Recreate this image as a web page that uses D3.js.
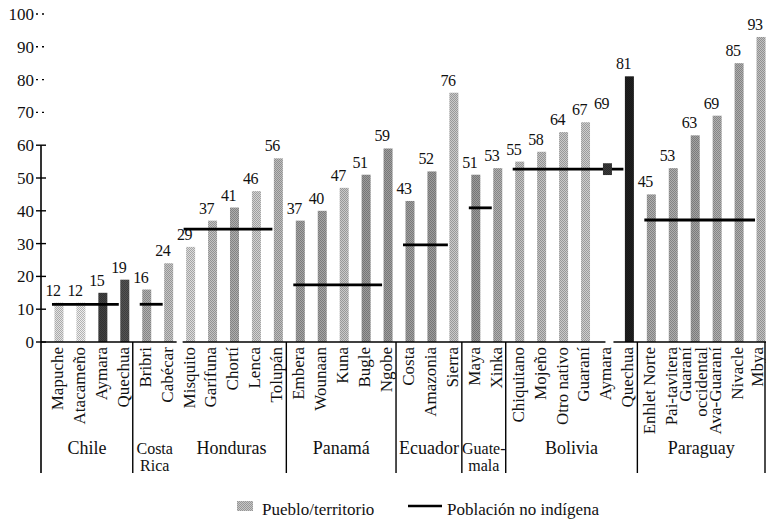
<!DOCTYPE html>
<html>
<head>
<meta charset="utf-8">
<script src="https://cdn.jsdelivr.net/npm/d3@7"></script>
<style>
  html, body { margin: 0; padding: 0; background: #fff; }
  svg { display: block; }
</style>
</head>
<body>
<div id="chart"></div>
<script>
// Pueblos (one bar each), in drawing order
const pueblos = [
  'Mapuche', 'Atacameño', 'Aymara', 'Quechua',
  'Bribri', 'Cabécar',
  'Misquito', 'Garífuna', 'Chortí', 'Lenca', 'Tolupán',
  'Embera', 'Wounaan', 'Kuna', 'Bugle', 'Ngobe',
  'Costa', 'Amazonia', 'Sierra',
  'Maya', 'Xinka',
  'Chiquitano', 'Mojeño', 'Otro nativo', 'Guaraní', 'Aymara', 'Quechua',
  'Enhlet Norte', 'Pai-tavitera', 'Guaraní\noccidental', 'Ava-Guaraní', 'Nivacle', 'Mbya'
];

// Country of each pueblo
const paisDePueblo = [
  'Chile', 'Chile', 'Chile', 'Chile',
  'Costa Rica', 'Costa Rica',
  'Honduras', 'Honduras', 'Honduras', 'Honduras', 'Honduras',
  'Panamá', 'Panamá', 'Panamá', 'Panamá', 'Panamá',
  'Ecuador', 'Ecuador', 'Ecuador',
  'Guatemala', 'Guatemala',
  'Bolivia', 'Bolivia', 'Bolivia', 'Bolivia', 'Bolivia', 'Bolivia',
  'Paraguay', 'Paraguay', 'Paraguay', 'Paraguay', 'Paraguay', 'Paraguay'
];

// Pueblo/territorio values (%)
const valores = [
  12, 12, 15, 19,
  16, 24,
  29, 37, 41, 46, 56,
  37, 40, 47, 51, 59,
  43, 52, 76,
  51, 53,
  55, 58, 64, 67, 69, 81,
  45, 53, 63, 69, 85, 93
];

// Countries and their non-indigenous population value (%)
const paises = ['Chile', 'Costa Rica', 'Honduras', 'Panamá', 'Ecuador', 'Guatemala', 'Bolivia', 'Paraguay'];
const etiquetaPais = ['Chile', 'Costa\nRica', 'Honduras', 'Panamá', 'Ecuador', 'Guate-\nmala', 'Bolivia', 'Paraguay'];
const noIndigena = [11.5, 11.5, 34.4, 17.4, 29.6, 40.9, 52.7, 37.2];

// Y axis ticks
const ticksY = [0, 10, 20, 30, 40, 50, 60, 70, 80, 90, 100];

// Grey tone of each bar's halftone (style only)
const tonoBarra = [
  '#c8c8c8', '#d2d2d2', '#3a3a3a', '#4a4a4a',
  '#9c9c9c', '#b0b0b0',
  '#c2c2c2', '#acacac', '#9a9a9a', '#bababa', '#a8a8a8',
  '#929292', '#929292', '#b2b2b2', '#8a8a8a', '#8c8c8c',
  '#8e8e8e', '#8a8a8a', '#b2b2b2',
  '#8a8a8a', '#9c9c9c',
  '#acacac', '#acacac', '#b2b2b2', '#b6b6b6', '#ffffff', '#1c1c1c',
  '#9a9a9a', '#9a9a9a', '#909090', '#9c9c9c', '#9a9a9a', '#aaaaaa'
];

const FONT = "'Liberation Serif', 'Times New Roman', 'DejaVu Serif', serif";
const W = 766, H = 524;
const baseY = 342, topY = 14, bottomSep = 473;
const axisX = 41, rightX = 765;

const svg = d3.select('#chart').append('svg')
  .attr('width', W).attr('height', H)
  .attr('font-family', FONT);

const defs = svg.append('defs');

function halftone(id, color) {
  const c = d3.color(color);
  const p = defs.append('pattern')
    .attr('id', id)
    .attr('patternUnits', 'userSpaceOnUse')
    .attr('width', 2).attr('height', 2);
  p.append('rect').attr('width', 2).attr('height', 2).attr('fill', c.brighter(0.35).formatHex());
  p.append('rect').attr('width', 1).attr('height', 1).attr('fill', c.darker(0.45).formatHex());
  p.append('rect').attr('x', 1).attr('y', 1).attr('width', 1).attr('height', 1).attr('fill', c.darker(0.45).formatHex());
}

const data = pueblos.map((p, i) => ({
  i, pueblo: p, pais: paisDePueblo[i], valor: valores[i], tono: tonoBarra[i]
}));

data.forEach(d => halftone('ht' + d.i, d.tono));
halftone('htLegend', '#b0b0b0');
halftone('htMark', '#333333');

const x = d3.scaleBand()
  .domain(data.map(d => d.i))
  .range([48, 772])
  .paddingInner(0.59)
  .paddingOuter(0.295);

const y = d3.scaleLinear().domain([0, 100]).range([baseY, topY]);

const cx = i => x(i) + x.bandwidth() / 2;

// Bars
svg.append('g').selectAll('rect')
  .data(data)
  .join('rect')
  .attr('x', d => x(d.i))
  .attr('y', d => y(d.valor))
  .attr('width', x.bandwidth())
  .attr('height', d => y(0) - y(d.valor))
  .attr('fill', d => d.tono === '#ffffff' ? '#ffffff' : `url(#ht${d.i})`);

// Value labels
svg.append('g').selectAll('text')
  .data(data)
  .join('text')
  .attr('x', d => cx(d.i) - 6)
  .attr('y', d => y(d.valor) - 7)
  .attr('text-anchor', 'middle')
  .attr('font-size', 16)
  .attr('letter-spacing', -0.5)
  .attr('fill', '#111')
  .text(d => d.valor);

// Groups: first/last index per country
const grupos = paises.map((p, k) => {
  const idx = data.filter(d => d.pais === p).map(d => d.i);
  return { pais: p, etiqueta: etiquetaPais[k], valor: noIndigena[k], first: d3.min(idx), last: d3.max(idx) };
});

// Non-indigenous population lines
svg.append('g').selectAll('line')
  .data(grupos)
  .join('line')
  .attr('x1', g => cx(g.first) - 7)
  .attr('x2', g => cx(g.last) - 6)
  .attr('y1', g => y(g.valor))
  .attr('y2', g => y(g.valor))
  .attr('stroke', '#000')
  .attr('stroke-width', 2.8);

// Dark mark on the hidden Bolivian Aymara bar
const boliviaG = grupos.find(g => g.pais === 'Bolivia');
data.filter(d => d.tono === '#ffffff').forEach(d => {
  svg.append('rect')
    .attr('x', x(d.i))
    .attr('y', y(boliviaG.valor + 1.8))
    .attr('width', x.bandwidth())
    .attr('height', y(boliviaG.valor - 1.8) - y(boliviaG.valor + 1.8))
    .attr('fill', 'url(#htMark)');
});

// Y axis
const axis = svg.append('g');
axis.append('line')
  .attr('x1', axisX).attr('x2', axisX)
  .attr('y1', y(60)).attr('y2', bottomSep)
  .attr('stroke', '#000').attr('stroke-width', 1.6);

axis.selectAll('.tick')
  .data(ticksY)
  .join('line')
  .attr('x1', 36).attr('x2', t => t > 60 ? 48 : 46)
  .attr('y1', t => y(t)).attr('y2', t => y(t))
  .attr('stroke', '#000')
  .attr('stroke-width', 1.4)
  .attr('stroke-dasharray', t => t > 60 ? '2,4' : null);

axis.selectAll('text')
  .data(ticksY)
  .join('text')
  .attr('x', 34)
  .attr('y', t => y(t))
  .attr('dy', '0.35em')
  .attr('text-anchor', 'end')
  .attr('font-size', 17)
  .attr('fill', '#111')
  .text(t => t);

// Baseline (with the small breaks of the original)
const gap1 = (cx(5) + cx(6)) / 2;
const gap2 = cx(25);
[[axisX, gap1 - 3], [gap1 + 3, gap2 - 2], [gap2 + 6, W]].forEach(([a, b]) => {
  svg.append('line')
    .attr('x1', a).attr('x2', b)
    .attr('y1', baseY).attr('y2', baseY)
    .attr('stroke', '#000').attr('stroke-width', 1.6);
});

// Group separators
const bordes = [];
grupos.forEach((g, k) => {
  if (k === 0) return;
  bordes.push({ x: (cx(grupos[k - 1].last) + cx(g.first)) / 2 - 3, draw: g.pais !== 'Honduras' });
});
svg.append('g').selectAll('line')
  .data(bordes.filter(b => b.draw).map(b => b.x).concat([rightX]))
  .join('line')
  .attr('x1', d => d).attr('x2', d => d)
  .attr('y1', baseY).attr('y2', bottomSep)
  .attr('stroke', '#000')
  .attr('stroke-width', 1.4);

// Pueblo labels (rotated)
const catG = svg.append('g');
data.forEach(d => {
  const lines = d.pueblo.split('\n');
  lines.forEach((ln, j) => {
    const off = lines.length > 1 ? (j === 0 ? -8 : 8) : 0;
    catG.append('text')
      .attr('transform', `translate(${Math.min(cx(d.i) - 2 + off, 757)},347) rotate(-90)`)
      .attr('dy', '0.35em')
      .attr('text-anchor', 'end')
      .attr('font-size', 17)
      .attr('fill', '#111')
      .text(ln);
  });
});

// Country labels
const lims = [axisX].concat(bordes.map(b => b.x)).concat([rightX]);
grupos.forEach((g, k) => {
  const mid = (lims[k] + lims[k + 1]) / 2;
  const lines = g.etiqueta.split('\n');
  lines.forEach((ln, j) => {
    svg.append('text')
      .attr('x', mid)
      .attr('y', 454 + j * 17)
      .attr('text-anchor', 'middle')
      .attr('font-size', lines.length > 1 ? 16 : 18)
      .attr('fill', '#111')
      .text(ln);
  });
});

// Legend
const legend = svg.append('g');
legend.append('rect')
  .attr('x', 237).attr('y', 501).attr('width', 16).attr('height', 10)
  .attr('fill', 'url(#htLegend)');
legend.append('text')
  .attr('x', 262).attr('y', 515)
  .attr('font-size', 17).attr('fill', '#111')
  .text('Pueblo/territorio');
legend.append('line')
  .attr('x1', 408).attr('x2', 442).attr('y1', 506).attr('y2', 506)
  .attr('stroke', '#000').attr('stroke-width', 2.5);
legend.append('text')
  .attr('x', 447).attr('y', 515)
  .attr('font-size', 17).attr('fill', '#111')
  .text('Población no indígena');
</script>
</body>
</html>
